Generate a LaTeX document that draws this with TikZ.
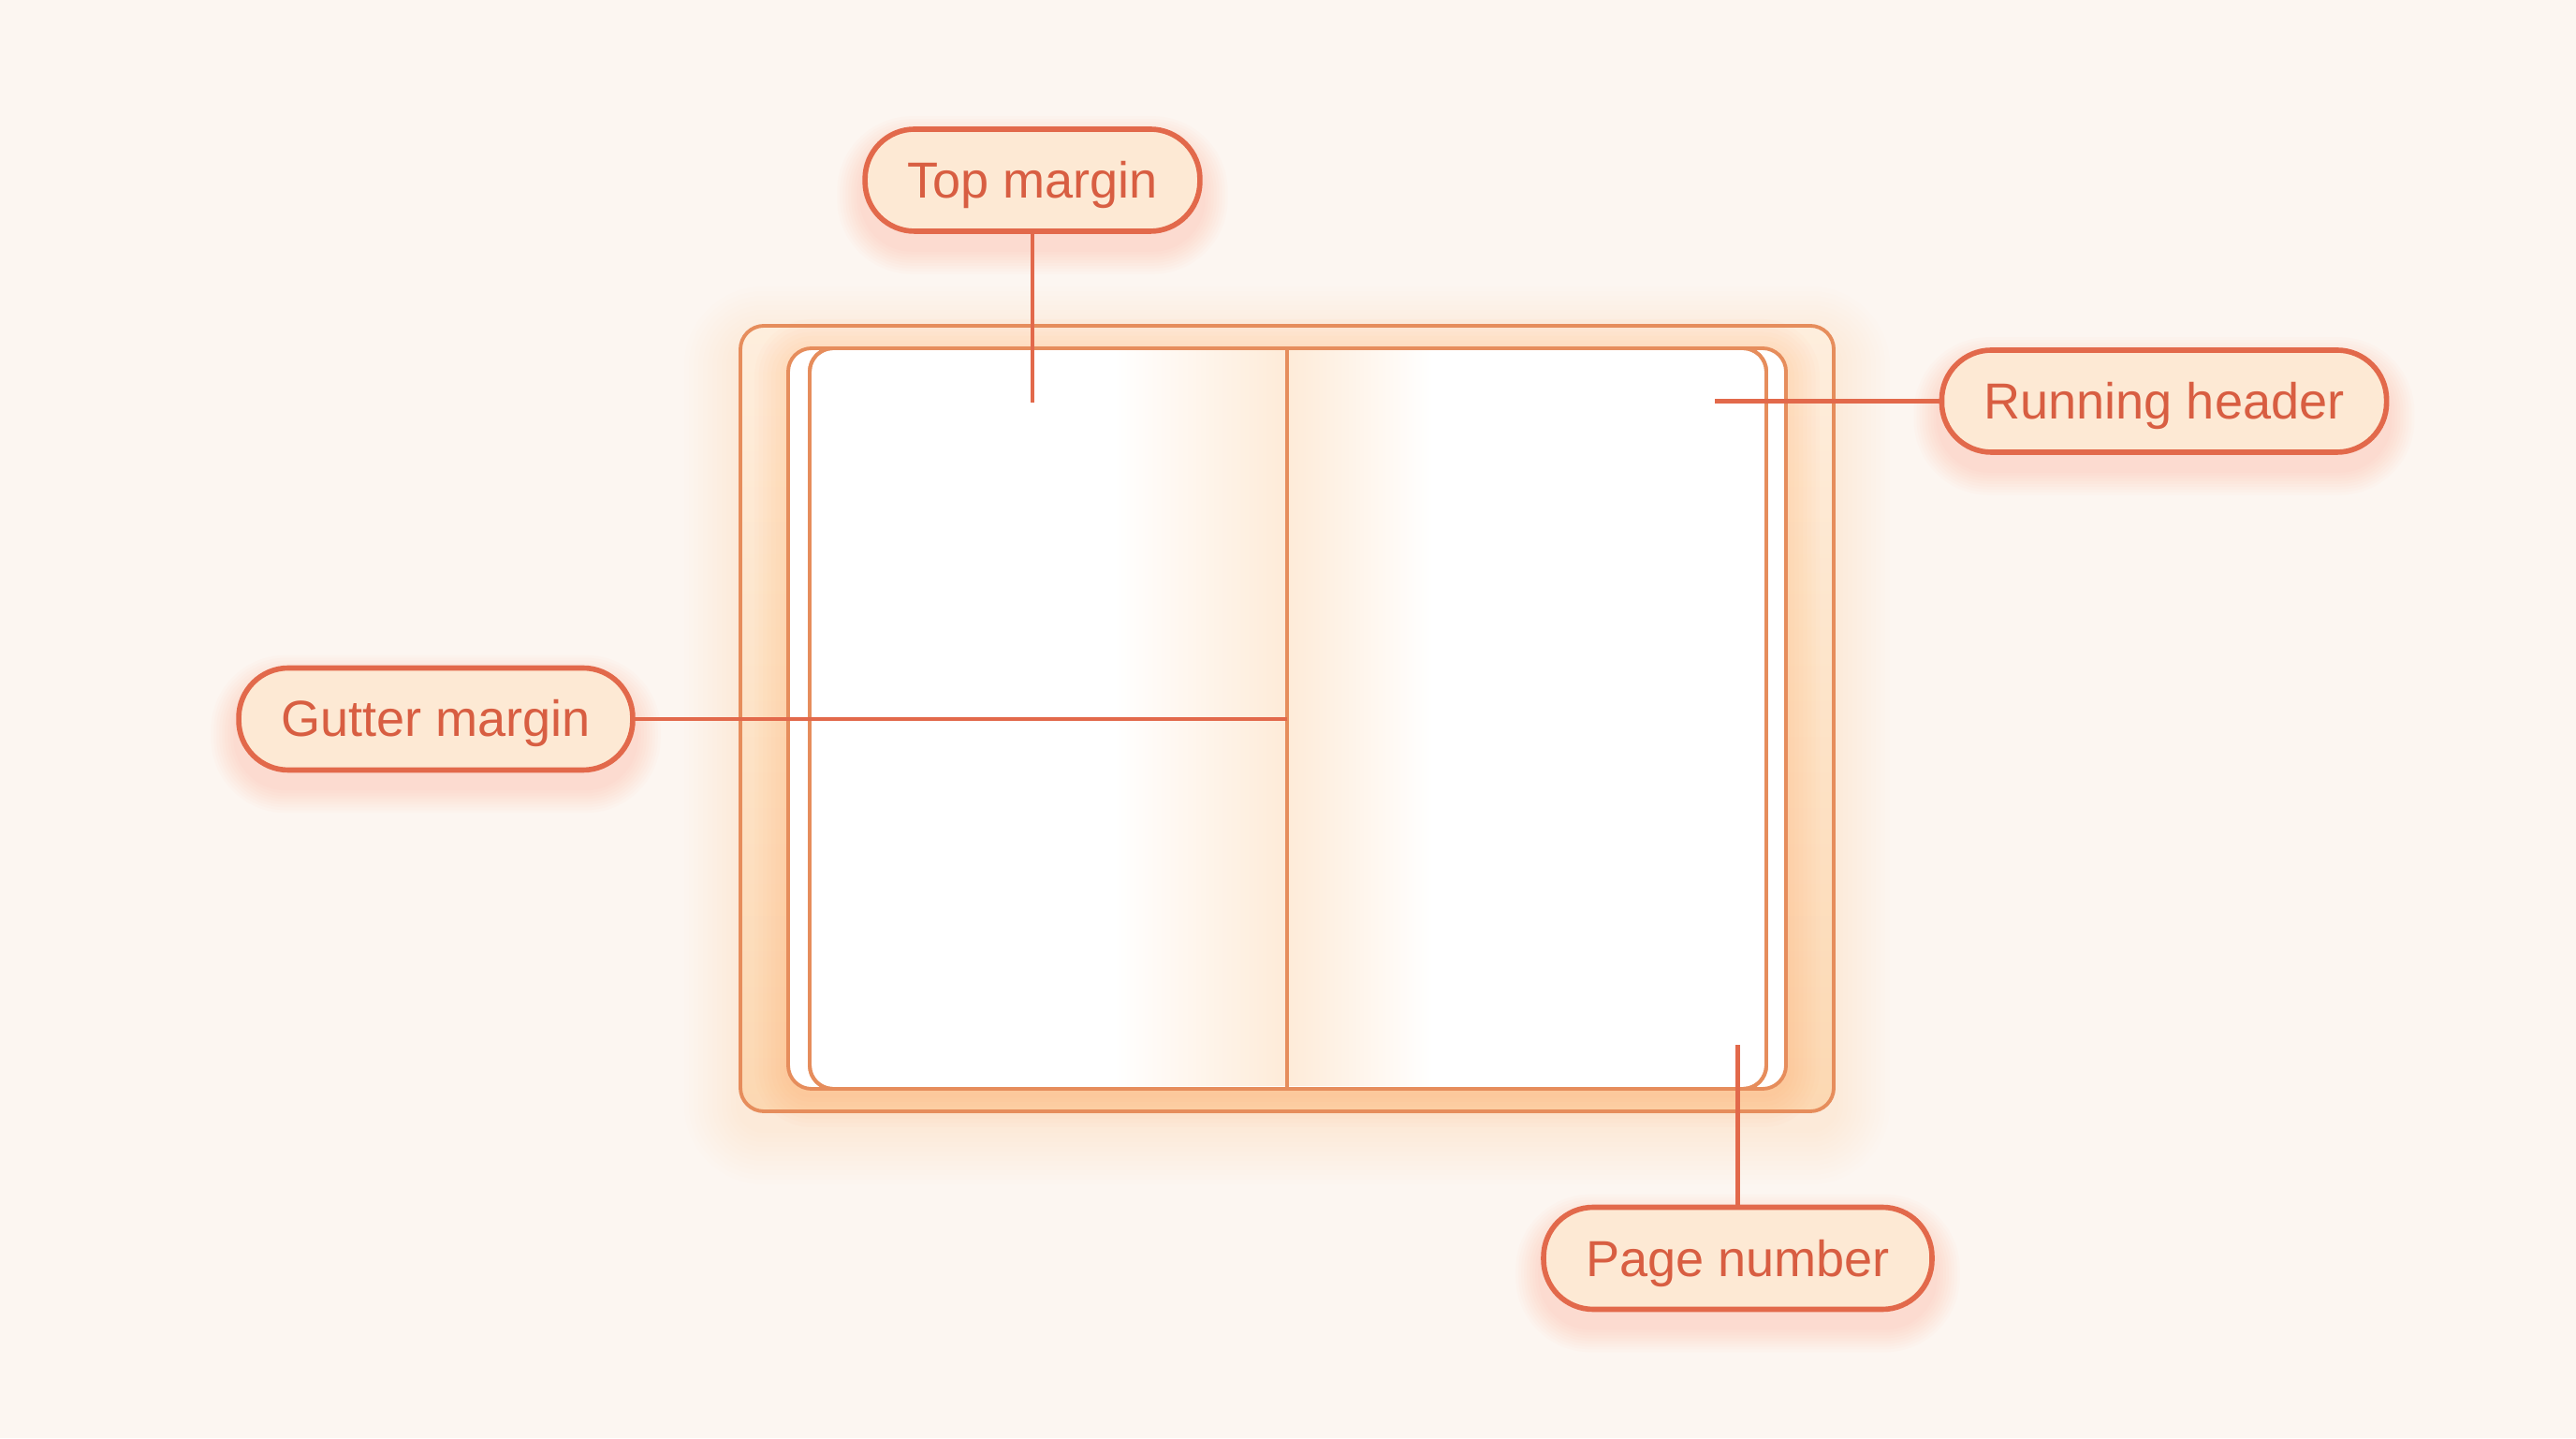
\documentclass[tikz,border=0pt]{standalone}
\usepackage{fontspec}
\setmainfont{Liberation Sans}
\usetikzlibrary{calc, positioning}
\usepgflibrary{shapes.misc}
\pgfdeclarelayer{background}
\pgfdeclarelayer{shadow}
\pgfsetlayers{background,shadow,main}
\definecolor{paper}{HTML}{FCF6F1}
\definecolor{covertop}{HTML}{FEEEDD}
\definecolor{coverbot}{HTML}{FCD8B2}
\definecolor{spinetint}{HTML}{FEEBD8}
\definecolor{bookline}{HTML}{E68D5C}
\definecolor{pillline}{HTML}{E2694B}
\definecolor{pillfill}{HTML}{FDE9D4}
\definecolor{pilltext}{HTML}{D85E42}
\definecolor{glow}{HTML}{FFA860}
\definecolor{redglow}{HTML}{FF7A5C}
\newcommand\labelfont{\fontsize{15.4}{18}\selectfont}
\def\bookwidth{1.1pt}
\tikzset{
    pillbox/.style = {
        draw=pillline, fill=pillfill, line width=1.6pt, rounded corners=0.53cm,
        minimum height=1.09cm, inner xsep=0.45cm, text height=0.45cm, text depth=0.07cm,
        text=pilltext, font=\labelfont
    },
    leader/.style = {draw=pillline, line width=1.3pt},
    sheet/.style = {draw=bookline, line width=\bookwidth, rounded corners=0.25cm},
    Callout/.pic = {
        \node [pillbox](-pill){#1};
        \begin{pgfonlayer}{shadow}
            \foreach \i in {1,...,9}{
                \pgfmathsetmacro\rr{0.53+\i*0.03}
                \fill[redglow, opacity=0.022, rounded corners=\rr cm] ([shift={(-\i*0.03,-\i*0.03-0.16)}] -pill.south west) rectangle ([shift={(\i*0.03,\i*0.03-0.16)}] -pill.north east);
            }
        \end{pgfonlayer}
    },
}
\begin{document}
\begin{tikzpicture}
    \useasboundingbox (0,0) rectangle (27.52,15.36);
    \begin{pgfonlayer}{background}
        \fill[paper] (0,0) rectangle (27.52,15.36);
    \end{pgfonlayer}
    % Book corners
    \coordinate (cov-sw) at (7.91,3.49);
    \coordinate (cov-ne) at (19.59,11.88);
    \coordinate (back-sw) at (8.42,3.73);
    \coordinate (back-ne) at (19.08,11.64);
    \coordinate (front-sw) at (8.65,3.73);
    \coordinate (front-ne) at (18.87,11.64);
    \coordinate (spine-top) at (13.75,11.64);
    \coordinate (spine-bot) at (13.75,3.73);
    % Glow the cover
    \foreach \i in {1,...,12}{
        \pgfmathsetmacro\rr{0.25+\i*0.05}
        \fill[glow, opacity=0.012, rounded corners=\rr cm] ([shift={(-\i*0.05,-\i*0.05-0.18)}] cov-sw) rectangle ([shift={(\i*0.05,\i*0.05-0.18)}] cov-ne);
    }
    % Cover
    \draw[sheet, top color=covertop, bottom color=coverbot] (cov-sw) rectangle (cov-ne);
    % Shadow of the page stack
    \foreach \i in {1,...,8}{
        \pgfmathsetmacro\rr{0.25+\i*0.045}
        \fill[glow, opacity=0.03, rounded corners=\rr cm] ([shift={(-\i*0.045,-\i*0.045-0.05)}] back-sw) rectangle ([shift={(\i*0.045,\i*0.045-0.05)}] back-ne);
    }
    % Pages
    \draw[sheet, fill=white] (back-sw) rectangle (back-ne);
    \draw[sheet, fill=white] (front-sw) rectangle (front-ne);
    \shade[left color=white, right color=spinetint] ([yshift=0.03cm] spine-bot -| 11.9,0) rectangle ([yshift=-0.03cm] spine-top);
    \shade[left color=spinetint, right color=white] ([yshift=0.03cm] spine-bot) rectangle ([yshift=-0.03cm] spine-top -| 15.3,0);
    \draw[sheet] (front-sw) rectangle (front-ne);
    \draw[bookline, line width=\bookwidth] (spine-top) -- (spine-bot);

    % Place the labels
    \pic (tm) at (11.03,13.435) {Callout={Top margin}};
    \pic (rh) at (23.12,11.075) {Callout={Running header}};
    \pic (gm) at (4.655,7.68) {Callout={Gutter margin}};
    \pic (pn) at (18.565,1.92) {Callout={Page number}};

    % Draw connections
    \coordinate (tm-end) at (11.03,11.06);
    \coordinate (rh-end) at (18.32,11.075);
    \coordinate (gm-end) at (13.75,7.68);
    \coordinate (pn-end) at (18.565,4.20);
    \draw[leader] (tm-pill.south) -- (tm-end);
    \draw[leader] (rh-pill.west) -- (rh-end);
    \draw[leader] (gm-pill.east) -- (gm-end);
    \draw[leader] (pn-pill.north) -- (pn-end);
\end{tikzpicture}
\end{document}
